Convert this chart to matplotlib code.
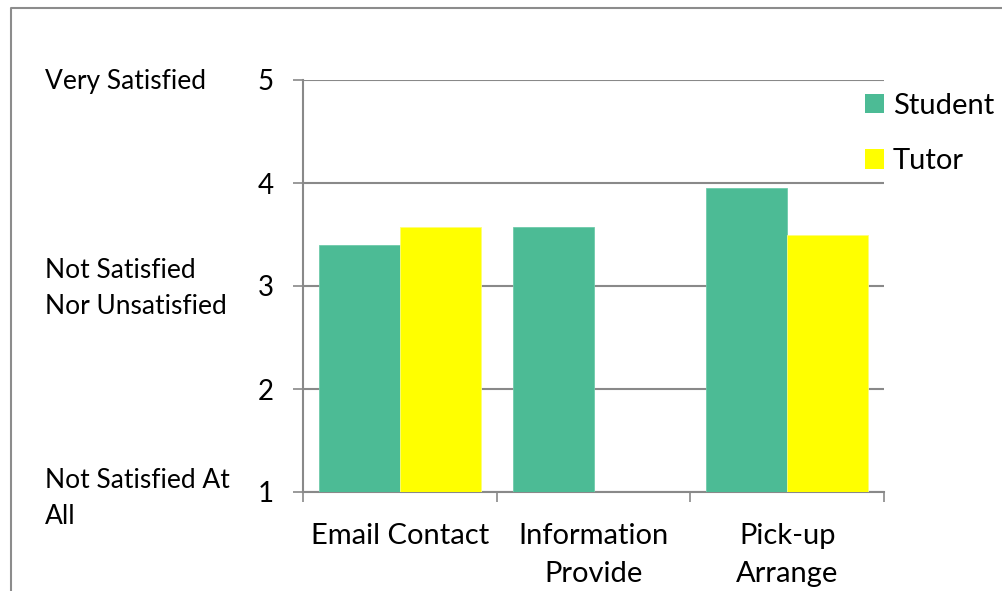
import numpy as np
import matplotlib
matplotlib.use("Agg")
import matplotlib.pyplot as plt
from matplotlib.lines import Line2D
from matplotlib.patches import Patch

plt.rcParams['font.family'] = ['Lato', 'DejaVu Sans']

categories = ["Email Contact", "Information\nProvide", "Pick-up\nArrange"]
student = [3.40, 3.57, 3.95]
tutor = [3.57, np.nan, 3.50]
series_names = ["Student", "Tutor"]
y_ticks = [1, 2, 3, 4, 5]
scale_labels = ["Very Satisfied", "Not Satisfied\nNor Unsatisfied", "Not Satisfied At\nAll"]

green = "#4CBB95"
yellow = "#FFFF00"
axis_grey = "#898989"

W, H = 1003, 591
fig = plt.figure(figsize=(W / 100, H / 100), dpi=100)
ax = fig.add_axes([303 / W, 1 - 492 / H, 581 / W, 412 / H])

x = np.arange(len(categories))
w = 0.418
ax.bar(x - w / 2, student, width=w, bottom=0, color=green, edgecolor="#6fcbab", linewidth=0.6, zorder=3)
ax.bar(x + w / 2, tutor, width=w, bottom=0, color=yellow, edgecolor="#fdfd7a", linewidth=0.6, zorder=3)

ax.set_xlim(-0.5, len(categories) - 0.5)
ax.set_ylim(1, 5)
ax.set_yticks(y_ticks)
ax.set_yticklabels([str(v) for v in y_ticks])
ax.yaxis.grid(True, color=axis_grey, linewidth=1.5, zorder=0)
ax.set_axisbelow(True)

for side in ("top", "right"):
    ax.spines[side].set_visible(False)
for side in ("left", "bottom"):
    ax.spines[side].set_color(axis_grey)
    ax.spines[side].set_linewidth(1.5)

ax.tick_params(axis="y", length=7, width=1.2, color=axis_grey, pad=14, labelsize=20)
ax.set_xticks(x)
ax.set_xticklabels(categories, fontsize=21, linespacing=1.6, va="top")
ax.tick_params(axis="x", which="major", length=0, pad=22)
ax.set_xticks(np.arange(-0.5, len(categories)), minor=True)
ax.tick_params(axis="x", which="minor", length=7, width=1.2, color=axis_grey)

# satisfaction scale captions left of the value axis (vertical centres in pixels)
caption_y = [82, 288, 499]
for txt, py in zip(scale_labels, caption_y):
    fig.text(45 / W, 1 - py / H, txt, ha="left", va="center", fontsize=19, linespacing=1.55)

# outer chart frame
fx = 11 / W
fy = 1 - 8 / H
fig.add_artist(Line2D([fx, fx, 1.0], [0.0, fy, fy], transform=fig.transFigure,
                      color="#8c8c8c", linewidth=1.5))

handles = [Patch(facecolor=green, edgecolor="none"), Patch(facecolor=yellow, edgecolor="none")]
fig.legend(handles, series_names, loc="upper left", bbox_to_anchor=(865 / W, 1 - 93 / H),
           frameon=False, fontsize=21, handlelength=0.65, handleheight=0.65,
           handletextpad=0.3, labelspacing=1.0, borderpad=0, borderaxespad=0)

fig.savefig("out.png", dpi=100)
